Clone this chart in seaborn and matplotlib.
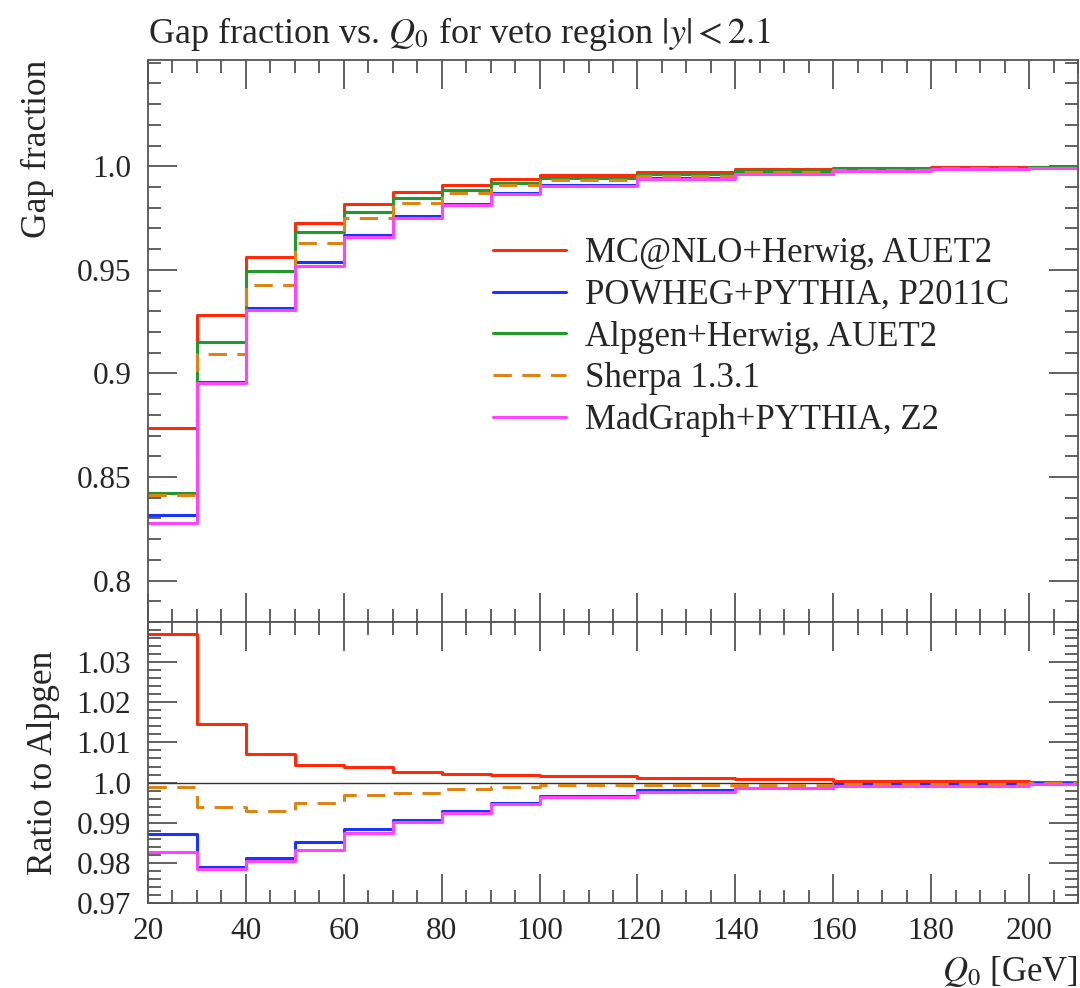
import numpy as np
import pandas as pd
import seaborn as sns
import matplotlib.pyplot as plt
from matplotlib.ticker import MultipleLocator, FixedLocator, FixedFormatter

sns.set_theme(style='ticks')
plt.rcParams['font.family'] = ['Liberation Serif', 'DejaVu Serif']
plt.rcParams['mathtext.fontset'] = 'stix'

# bin edges in Q0 [GeV]
edges = [20, 30, 40, 50, 60, 70, 80, 90, 100, 120, 140, 160, 180, 200, 210]

# gap fraction per bin
mcnlo   = [0.8738, 0.9283, 0.9561, 0.9724, 0.9818, 0.9876, 0.9909, 0.9940, 0.9960, 0.9974, 0.9985, 0.9993, 0.9997, 0.9997]
powheg  = [0.8318, 0.8957, 0.9316, 0.9537, 0.9668, 0.9758, 0.9816, 0.9869, 0.9909, 0.9943, 0.9963, 0.9984, 0.9990, 0.9995]
alpgen  = [0.8425, 0.9150, 0.9494, 0.9681, 0.9780, 0.9849, 0.9887, 0.9921, 0.9943, 0.9962, 0.9976, 0.9988, 0.9993, 0.9996]
sherpa  = [0.8415, 0.9093, 0.9426, 0.9631, 0.9750, 0.9824, 0.9870, 0.9910, 0.9936, 0.9955, 0.9970, 0.9984, 0.9990, 0.9994]
madgraph = [0.8280, 0.8952, 0.9308, 0.9519, 0.9657, 0.9752, 0.9812, 0.9867, 0.9907, 0.9939, 0.9963, 0.9979, 0.9985, 0.9993]

# ratio to Alpgen per bin (Alpgen itself is the reference line)
r_mcnlo   = [1.0371, 1.0145, 1.0071, 1.0044, 1.0039, 1.0027, 1.0022, 1.0019, 1.0017, 1.0012, 1.0009, 1.0005, 1.0004, 1.0001]
r_powheg  = [0.9873, 0.9789, 0.9813, 0.9851, 0.9885, 0.9908, 0.9928, 0.9948, 0.9966, 0.9981, 0.9987, 0.9996, 0.9997, 0.9999]
r_sherpa  = [0.9988, 0.9938, 0.9928, 0.9948, 0.9969, 0.9975, 0.9983, 0.9989, 0.9993, 0.9993, 0.9994, 0.9996, 0.9997, 0.9998]
r_madgraph = [0.9828, 0.9784, 0.9804, 0.9833, 0.9874, 0.9902, 0.9924, 0.9946, 0.9964, 0.9977, 0.9987, 0.9991, 0.9992, 0.9997]

names = ['MC@NLO+Herwig, AUET2', 'POWHEG+PYTHIA, P2011C', 'Alpgen+Herwig, AUET2',
         'Sherpa 1.3.1', 'MadGraph+PYTHIA, Z2']
colors = ['#ff2a0a', '#1a33ff', '#22992a', '#dd8416', '#ff44ff']

main_vals = [mcnlo, powheg, alpgen, sherpa, madgraph]
ratio_names = [names[0], names[1], names[3], names[4]]
ratio_vals = [r_mcnlo, r_powheg, r_sherpa, r_madgraph]

main_yticks = [0.8, 0.85, 0.9, 0.95, 1.0]
main_ylabels = ['0.8', '0.85', '0.9', '0.95', '1.0']
ratio_yticks = [0.97, 0.98, 0.99, 1.0, 1.01, 1.02, 1.03]
ratio_ylabels = ['0.97', '0.98', '0.99', '1.0', '1.01', '1.02', '1.03']
xticks = [20, 40, 60, 80, 100, 120, 140, 160, 180, 200]


def long_form(name_list, vals_list):
    rows = []
    for name, vals in zip(name_list, vals_list):
        ys = list(vals) + [vals[-1]]
        for x, y in zip(edges, ys):
            rows.append({'Q0': x, 'val': y, 'gen': name})
    return pd.DataFrame(rows)


df_main = long_form(names, main_vals)
df_ratio = long_form(ratio_names, ratio_vals)

palette = dict(zip(names, colors))
dashes = {n: '' for n in names}
dashes['Sherpa 1.3.1'] = (6, 3.4)

fig = plt.figure(figsize=(10.8, 9.88), dpi=100)
gs = fig.add_gridspec(2, 1, height_ratios=[562, 281], hspace=0,
                      left=148/1080, right=1078/1080, top=1-60/988, bottom=1-903/988)
ax = fig.add_subplot(gs[0])
rax = fig.add_subplot(gs[1], sharex=ax)

sns.lineplot(data=df_main, x='Q0', y='val', hue='gen', style='gen', hue_order=names,
             style_order=names, palette=palette, dashes=dashes, drawstyle='steps-post',
             estimator=None, lw=2.2, legend=False, ax=ax)
rax.axhline(1.0, color='#333333', lw=1.0, zorder=1)
sns.lineplot(data=df_ratio, x='Q0', y='val', hue='gen', style='gen', hue_order=ratio_names,
             style_order=ratio_names, palette=palette, dashes=dashes, drawstyle='steps-post',
             estimator=None, lw=2.2, legend=False, ax=rax)

leg = ax.legend(handles=ax.lines[:5], labels=names, loc='upper left', frameon=False,
                fontsize=25, handlelength=2.1, handletextpad=0.55, labelspacing=0.25,
                borderaxespad=0)
leg.set_bbox_to_anchor((0.4435, 0.774), transform=fig.transFigure)

ax.set_xlim(20, 210)
ax.set_ylim(0.780, 1.0513)
rax.set_ylim(0.97, 1.04)

ax.yaxis.set_major_locator(FixedLocator(main_yticks))
ax.yaxis.set_major_formatter(FixedFormatter(main_ylabels))
ax.yaxis.set_minor_locator(MultipleLocator(0.01))
rax.yaxis.set_major_locator(FixedLocator(ratio_yticks))
rax.yaxis.set_major_formatter(FixedFormatter(ratio_ylabels))
rax.yaxis.set_minor_locator(MultipleLocator(0.002))
rax.xaxis.set_major_locator(FixedLocator(xticks))
rax.xaxis.set_minor_locator(MultipleLocator(5))

for a in (ax, rax):
    a.tick_params(which='both', direction='in', top=True, right=True,
                  color='#555555', labelsize=22.5, width=1.3)
    a.tick_params(which='major', length=21, pad=12)
    a.tick_params(which='minor', length=9.5)
    for s in a.spines.values():
        s.set_color('#555555')
        s.set_linewidth(1.3)
ax.tick_params(axis='x', labelbottom=False)
rax.tick_params(axis='x', pad=10)

ax.set_xlabel('')
ax.set_ylabel('Gap fraction', fontsize=25.5, loc='top', labelpad=16)
rax.set_ylabel('Ratio to Alpgen', fontsize=25.5, labelpad=12)
rax.set_xlabel('$Q_0$ [GeV]', fontsize=25, loc='right', labelpad=6)
ax.set_title('Gap fraction vs. $Q_0$ for veto region $|y| < 2.1$',
             loc='left', fontsize=26, pad=12)

fig.savefig('out.png', dpi=100)
